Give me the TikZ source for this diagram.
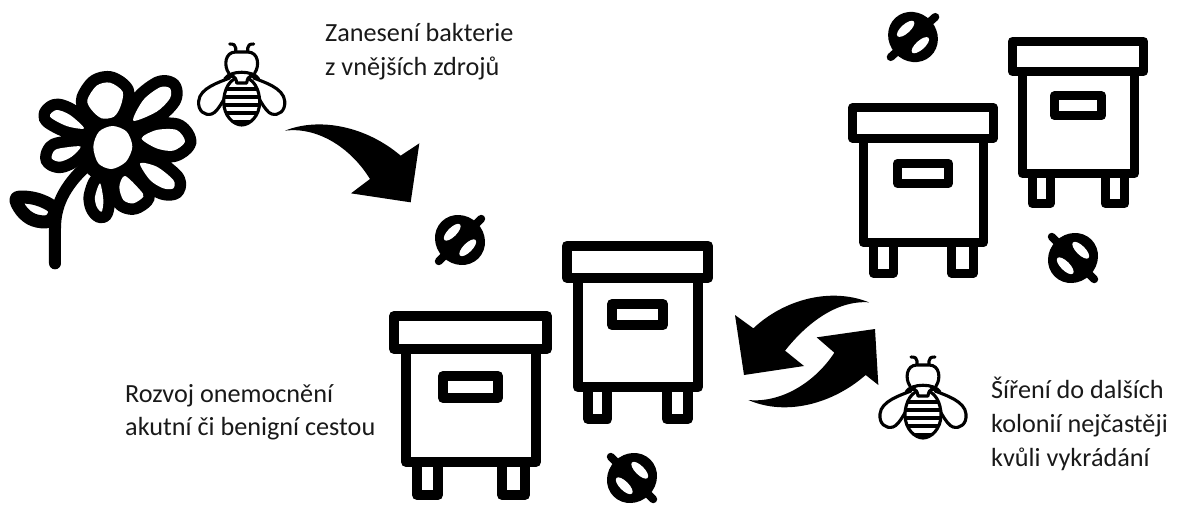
\documentclass[tikz,border=0pt]{standalone}
\usepackage{fontspec}
\setmainfont{Carlito}
\usepackage{tikz}
\usetikzlibrary{positioning}

\tikzset{
  pics/hive/.style={code={
    \draw (5,5) rectangle (158,38);
    \draw (17,38) -- (17,151) -- (147,151) -- (147,38);
    \draw (54,65) rectangle (109,87);
    \draw (28,151) -- (28,184) -- (49,184) -- (49,151);
    \draw (113,151) -- (113,184) -- (136,184) -- (136,151);
  }},
  pics/bact/.style={code={
    \fill (0,0) ellipse [x radius=24, y radius=26];
    \draw[line width=8pt, line cap=round] (-30,0) -- (30,0);
    \fill[white] (0,11) ellipse [x radius=11, y radius=4.5];
    \fill[white] (0,-11) ellipse [x radius=11, y radius=4.5];
  }},
  pics/bee/.style={code={
    \foreach \s in {-1,1} {
      \begin{scope}[xscale=\s]
        \draw[fill=white] (12,36) .. controls (22,40) and (42,46) .. (43,59)
          .. controls (44,69) and (37,74) .. (30,72)
          .. controls (23,70) and (14,50) .. (10,42);
        \draw (6,11) -- (6,6) .. controls (6,3) and (8,2) .. (12,2);
      \end{scope}
    }
    \draw[fill=white] (0,35) .. controls (12,35) and (18,48) .. (18,60)
      .. controls (18,74) and (8,83) .. (0,83)
      .. controls (-8,83) and (-18,74) .. (-18,60)
      .. controls (-18,48) and (-12,35) .. (0,35);
    \begin{scope}
      \clip (0,35) .. controls (12,35) and (18,48) .. (18,60)
        .. controls (18,74) and (8,83) .. (0,83)
        .. controls (-8,83) and (-18,74) .. (-18,60)
        .. controls (-18,48) and (-12,35) .. (0,35);
      \foreach \y in {47,55,63,71} {
        \draw (-20,\y) -- (20,\y);
      }
      \fill (-20,78) rectangle (20,84);
    \end{scope}
    \draw[fill=white] (-13,31) .. controls (-18,24) and (-17,10) .. (-6,10)
      -- (6,10) .. controls (17,10) and (18,24) .. (13,31);
    \draw[fill=white] (-17,37) .. controls (-12,28) and (12,28) .. (17,37)
      .. controls (10,32) and (6,33) .. (5,41) -- (-5,41)
      .. controls (-6,33) and (-10,32) .. (-17,37);
  }}
}

% flower openings, in zoomed pixels
\def\flowerholes{
  plot[smooth cycle] coordinates {(338,318) (380,335) (397,380) (378,425) (335,447) (295,430) (280,380) (297,335)}
  plot[smooth cycle] coordinates {(262,240) (290,197) (330,188) (368,215) (362,258) (342,290) (305,295) (275,270)}
  plot[smooth cycle, tension=0.5] coordinates {(400,302) (430,240) (480,202) (510,205) (510,235) (470,275)}
  plot[smooth cycle, tension=0.5] coordinates {(425,355) (470,330) (530,330) (555,365) (520,392) (470,385)}
  plot[smooth cycle, tension=0.5] coordinates {(420,430) (470,440) (520,480) (520,505) (490,505) (450,480)}
  plot[smooth cycle, tension=0.5] coordinates {(375,468) (420,510) (430,530) (400,550) (370,540) (358,500)}
  plot[smooth cycle, tension=0.5] coordinates {(300,490) (310,540) (305,575) (290,560) (285,530)}
  plot[smooth cycle, tension=0.5] coordinates {(242,380) (215,410) (180,425) (155,415) (165,390) (200,382)}
  plot[smooth cycle, tension=0.5] coordinates {(252,325) (200,318) (150,290) (170,270) (210,285)}
}

\begin{document}
\begin{tikzpicture}[
  x=1pt, y=-1pt,
  hivebox/.style={line width=#1, line join=round},
  beebox/.style={line width=3.1pt, line join=round, line cap=round},
  zoomed/.style={x=1pt/3, y=-1pt/3},
  lbl/.style={anchor=north west, align=left, inner sep=0pt, font=\fontsize{26.2}{33.7}\selectfont, text=black!90}
]
\useasboundingbox (0,0) rectangle (1178,504);

% flower
\begin{scope}[shift={(0,20)}, zoomed]
  \draw[line width=12pt, line cap=round] (262,435) .. controls (190,500) and (165,560) .. (165,625) -- (165,730);
  \draw[line width=13pt, fill=white, line join=round] plot[smooth cycle, tension=0.6] coordinates {(50,534) (110,537) (163,566) (148,603) (100,600) (64,572)};
  \fill (338,383) circle [radius=108];
  \draw[line width=23pt, line join=round] \flowerholes;
  \fill[white] \flowerholes;
\end{scope}

\pic[beebox] (beea) at (241.7,42) {bee};
\pic[beebox] (beeb) at (923,355) {bee};

% hives
\pic[hivebox=10pt] (hivea) at (389,311) {hive};
\pic[hivebox=10pt, xscale=.926, yscale=.968] (hiveb) at (562,241) {hive};
\pic[hivebox=9pt, xscale=.92, yscale=.926] (hivec) at (848,103) {hive};
\pic[hivebox=9pt, xscale=.859, yscale=.905] (hived) at (1008,37) {hive};

\pic[rotate=45] (bacta) at (460,240) {bact};
\pic[rotate=-45] (bactb) at (632,478) {bact};
\pic[rotate=42] (bactc) at (913,37) {bact};
\pic[rotate=-45] (bactd) at (1073,258) {bact};

% arrows
\begin{scope}[shift={(280,110)}, zoomed]
  \fill (15,62) .. controls (120,20) and (260,50) .. (362,137) -- (418,100) -- (392,277) -- (213,250) -- (270,207)
    .. controls (210,110) and (110,50) .. cycle;
\end{scope}
\begin{scope}[shift={(720,280)}, zoomed]
  \fill (447,67) .. controls (330,20) and (190,60) .. (100,145) -- (45,105) -- (72,285) -- (252,258) -- (195,212)
    .. controls (260,130) and (350,60) .. cycle;
  \fill (85,360) .. controls (200,410) and (340,370) .. (437,285) -- (475,315) -- (465,147) -- (290,172) -- (343,218)
    .. controls (290,300) and (190,370) .. cycle;
\end{scope}

\node[lbl] (ltop) at (325,23) {Zanesení bakterie\\z vnějších zdrojů};
\node[lbl] (lleft) at (125,384) {Rozvoj onemocnění\\akutní či benigní cestou};
\node[lbl] (lright) at (991,377) {Šíření do dalších\\kolonií nejčastěji\\kvůli vykrádání};
\end{tikzpicture}
\end{document}
